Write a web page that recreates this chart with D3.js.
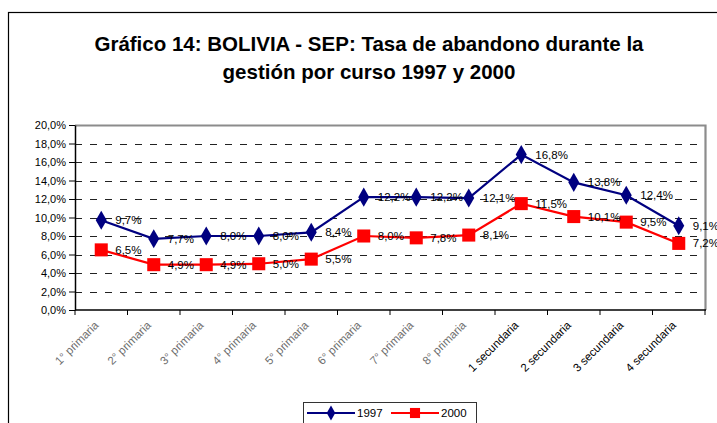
<!DOCTYPE html>
<meta charset="utf-8">
<script src="https://d3js.org/d3.v7.min.js"></script>
<style>
  body { margin: 0; background: #fff; }
  text { font-family: "Liberation Sans", Arial, sans-serif; }
</style>
<div id="chart"></div>
<script>
// categories and values
var cursos = ["1° primaria", "2° primaria", "3° primaria", "4° primaria", "5° primaria",
  "6° primaria", "7° primaria", "8° primaria", "1 secundaria", "2 secundaria",
  "3 secundaria", "4 secundaria"];
var tasa1997 = [9.7, 7.7, 8.0, 8.0, 8.4, 12.2, 12.2, 12.1, 16.8, 13.8, 12.4, 9.1];
var tasa2000 = [6.5, 4.9, 4.9, 5.0, 5.5, 8.0, 7.8, 8.1, 11.5, 10.1, 9.5, 7.2];
var yTicks = [0, 2, 4, 6, 8, 10, 12, 14, 16, 18, 20];
var titleLines = ["Gráfico 14: BOLIVIA - SEP: Tasa de abandono durante la",
  "gestión por curso 1997 y 2000"];

var W = 717, H = 423;
var plot = { left: 75, right: 705, top: 125, bottom: 310 };

var svg = d3.select("#chart").append("svg")
  .attr("width", W).attr("height", H);

// outer chart frame
svg.append("rect")
  .attr("x", 8.5).attr("y", 12.5)
  .attr("width", W + 20).attr("height", H + 20)
  .attr("fill", "#fff").attr("stroke", "#000").attr("stroke-width", 1.2);

// title
svg.append("g").selectAll("text")
  .data(titleLines)
  .enter().append("text")
  .attr("x", 369)
  .attr("y", function (d, i) { return 51 + i * 28; })
  .attr("text-anchor", "middle")
  .attr("font-size", 20.5)
  .attr("font-weight", "bold")
  .text(function (d) { return d; });

var x = d3.scaleBand().domain(cursos).range([plot.left, plot.right]);
var y = d3.scaleLinear().domain([0, 20]).range([plot.bottom, plot.top]);

var fmt = function (v) { return v.toFixed(1).replace(".", ",") + "%"; };

// dashed gridlines
svg.append("g").selectAll("line")
  .data(yTicks.filter(function (d) { return d > 0 && d < 20; }))
  .enter().append("line")
  .attr("x1", plot.left).attr("x2", plot.right)
  .attr("y1", function (d) { return Math.round(y(d)) + 0.5; })
  .attr("y2", function (d) { return Math.round(y(d)) + 0.5; })
  .attr("stroke", "#222").attr("stroke-width", 1)
  .attr("stroke-dasharray", "7,8");

// plot area top/right border (grey)
svg.append("path")
  .attr("d", "M" + plot.left + "," + (plot.top + 0.5) + "H" + (plot.right + 0.5) + "V" + plot.bottom)
  .attr("fill", "none").attr("stroke", "#8c8c8c").attr("stroke-width", 2.2);

// y axis
var yAxis = svg.append("g")
  .attr("transform", "translate(" + plot.left + ",0)")
  .call(d3.axisLeft(y).tickValues(yTicks).tickSize(6).tickSizeOuter(0).tickFormat(fmt));
yAxis.select(".domain").attr("stroke", "#000").attr("stroke-width", 1.5);
yAxis.selectAll(".tick line").attr("stroke", "#000");
yAxis.selectAll(".tick text").attr("font-size", 11).attr("fill", "#000")
  .attr("font-family", "Liberation Sans, Arial, sans-serif").attr("x", -9);

// x axis: ticks on category boundaries
var xAxis = svg.append("g")
  .attr("transform", "translate(0," + plot.bottom + ")");
xAxis.append("line")
  .attr("x1", plot.left).attr("x2", plot.right + 1)
  .attr("stroke", "#000").attr("stroke-width", 1.5);
xAxis.selectAll(".bt")
  .data(cursos.concat(["end"]))
  .enter().append("line")
  .attr("class", "bt")
  .attr("x1", function (d, i) { return i < cursos.length ? x(d) : plot.right; })
  .attr("x2", function (d, i) { return i < cursos.length ? x(d) : plot.right; })
  .attr("y1", 0).attr("y2", 5)
  .attr("stroke", "#000");
xAxis.selectAll(".lbl")
  .data(cursos)
  .enter().append("text")
  .attr("class", "lbl")
  .attr("transform", function (d) {
    return "translate(" + (x(d) + x.bandwidth() / 2 - 2) + ",16) rotate(-45)";
  })
  .attr("text-anchor", "end")
  .attr("font-size", 11.5)
  .attr("fill", function (d) { return d.indexOf("primaria") >= 0 ? "#6e6e6e" : "#000"; })
  .text(function (d) { return d; });

// series
var series = [
  { name: "1997", values: tasa1997, color: "#000080", shape: d3.symbolDiamond, size: 105 },
  { name: "2000", values: tasa2000, color: "#ff0000", shape: d3.symbolSquare, size: 170 }
];

var cx = function (i) { return x(cursos[i]) + x.bandwidth() / 2; };
var line = d3.line()
  .x(function (d, i) { return cx(i); })
  .y(function (d) { return y(d); });

series.forEach(function (s) {
  var g = svg.append("g");
  g.append("path")
    .attr("d", line(s.values))
    .attr("fill", "none").attr("stroke", s.color).attr("stroke-width", 2.2);
  g.selectAll("path.m")
    .data(s.values)
    .enter().append("path")
    .attr("class", "m")
    .attr("transform", function (d, i) { return "translate(" + cx(i) + "," + y(d) + ")"; })
    .attr("d", d3.symbol().type(s.shape).size(s.size))
    .attr("fill", s.color);
  g.selectAll("text")
    .data(s.values)
    .enter().append("text")
    .attr("x", function (d, i) { return cx(i) + 14; })
    .attr("y", function (d) { return y(d); })
    .attr("dy", "0.35em")
    .attr("font-size", 11.5)
    .attr("fill", "#000")
    .text(fmt);
});

// legend
var leg = svg.append("g");
leg.append("rect")
  .attr("x", 303.5).attr("y", 402.5)
  .attr("width", 173).attr("height", 30)
  .attr("fill", "#fff").attr("stroke", "#333").attr("stroke-width", 1);
var legX = [307, 391];
series.forEach(function (s, i) {
  var gx = legX[i];
  leg.append("line")
    .attr("x1", gx).attr("x2", gx + 48).attr("y1", 413).attr("y2", 413)
    .attr("stroke", s.color).attr("stroke-width", 2.2);
  leg.append("path")
    .attr("transform", "translate(" + (gx + 24) + ",413)")
    .attr("d", d3.symbol().type(s.shape).size(s.size * 0.6))
    .attr("fill", s.color);
  leg.append("text")
    .attr("x", gx + 50).attr("y", 413).attr("dy", "0.35em")
    .attr("font-size", 11.5)
    .text(s.name);
});
</script>
